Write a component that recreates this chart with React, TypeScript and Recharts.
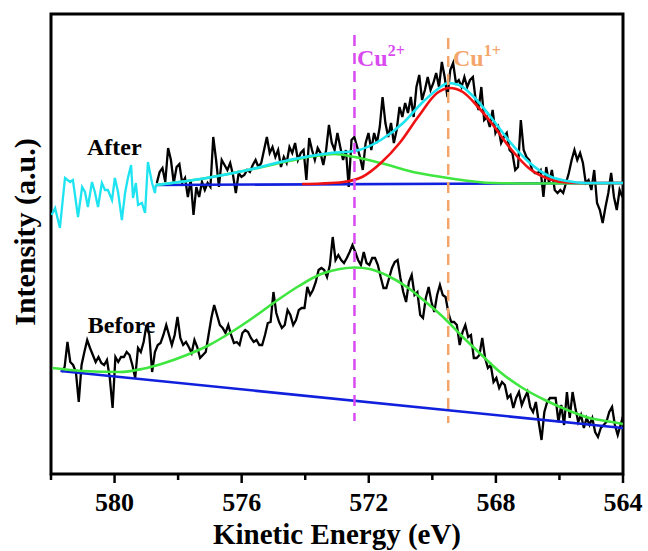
import React from 'react';
import { LineChart, Line, XAxis, YAxis, ReferenceArea, ReferenceDot } from 'recharts';

const FONT = "'Liberation Serif', 'Times New Roman', Times, serif";

// energy grid spacing of the measured spectra (eV)
const E_STEP = 0.0888;

// "After" spectrum (black), starts at 578.67 eV and runs to 564 eV
const afterBlackStart = 578.67;
const afterBlack = [
  291, 302, 306, 292, 326, 314, 291, 307, 310, 291,
  296, 277, 294, 259, 287, 277, 292, 284, 291, 287,
  337, 314, 287, 314, 309, 304, 311, 299, 281, 301,
  297, 299, 304, 302, 309, 314, 307, 311, 324, 337,
  321, 327, 317, 324, 307, 317, 311, 327, 321, 331,
  314, 321, 324, 294, 336, 324, 314, 326, 321, 309,
  324, 349, 331, 324, 341, 327, 314, 324, 287, 334,
  337, 327, 317, 304, 331, 341, 324, 341, 331, 347,
  377, 351, 337, 351, 331, 344, 367, 357, 371, 361,
  377, 357, 387, 399, 374, 384, 397, 384, 391, 401,
  387, 412, 397, 377, 404, 411, 391, 394, 387, 397,
  387, 394, 397, 374, 364, 387, 354, 357, 347, 364,
  341, 347, 331, 337, 341, 324, 321, 304, 307, 354,
  324, 317, 314, 304, 301, 301, 304, 277, 307, 291,
  304, 284, 281, 284, 281, 291, 301, 314, 324, 314,
  321, 311, 291, 294, 284, 304, 271, 264, 251, 267,
  281, 301, 277, 264, 284, 277,
];

// "Before" spectrum (black), starts at 581.66 eV and runs to 564 eV
const beforeBlackStart = 581.66;
const beforeBlack = [
  102, 107, 132, 112, 109, 102, 72, 109, 122, 134,
  126, 119, 112, 117, 111, 109, 114, 96, 66, 117,
  112, 117, 117, 122, 119, 109, 96, 126, 122, 132,
  149, 139, 102, 122, 129, 131, 139, 149, 139, 129,
  139, 157, 136, 129, 132, 127, 121, 134, 127, 116,
  119, 122, 139, 156, 169, 159, 149, 146, 141, 149,
  139, 131, 132, 129, 141, 144, 142, 136, 132, 134,
  129, 129, 139, 151, 152, 182, 161, 152, 146, 149,
  164, 159, 149, 154, 164, 166, 166, 187, 179, 184,
  192, 204, 206, 204, 197, 209, 237, 214, 219, 214,
  211, 216, 222, 229, 222, 214, 209, 222, 211, 209,
  216, 216, 209, 197, 186, 186, 196, 206, 212, 214,
  196, 182, 172, 192, 199, 179, 182, 159, 156, 176,
  187, 172, 162, 179, 189, 179, 177, 161, 152, 152,
  149, 129, 142, 149, 137, 139, 116, 116, 119, 136,
  116, 106, 109, 92, 96, 86, 92, 89, 76, 79,
  66, 76, 82, 69, 76, 82, 67, 62, 72, 52,
  34, 62, 72, 76, 76, 76, 52, 69, 49, 82,
  56, 82, 66, 52, 59, 46, 56, 49, 56, 42,
  37, 46, 49, 52, 62, 67, 49, 39, 49, 59,
];

// cyan noisy segment of the "After" curve (left part)
const cyanNoiseE = [581.98, 581.87, 581.72, 581.56, 581.40, 581.31, 581.15, 581.02, 580.93, 580.84, 580.71, 580.62, 580.52, 580.40, 580.30, 580.21, 580.08, 579.99, 579.89, 579.77, 579.67, 579.58, 579.48, 579.42, 579.33, 579.26, 579.14, 579.04, 578.95, 578.82, 578.73, 578.70];
const cyanNoiseV = [259, 266, 246, 296, 292, 294, 257, 287, 282, 267, 292, 282, 267, 291, 284, 284, 274, 296, 282, 254, 281, 296, 309, 276, 291, 269, 271, 261, 312, 291, 281, 289];

// After: fitted envelope (cyan)
const afterEnvE = [578.70, 577.10, 575.80, 574.51, 573.20, 572.44, 571.62, 570.92, 570.33, 569.74, 569.51, 569.16, 568.69, 568.09, 567.53, 566.93, 566.33, 565.76, 565.17, 564.0];
const afterEnvV = [289, 296, 304, 314, 321, 323, 334, 351, 371, 387, 391, 389, 377, 354, 331, 311, 298, 293, 291, 291];

// After: Cu2+ component (green)
const afterGreenE = [578.70, 577.10, 575.80, 574.51, 573.70, 573.10, 572.44, 571.62, 570.45, 569.51, 568.09, 566.93, 564.0];
const afterGreenV = [289, 296, 304, 313, 318, 320, 317, 311, 301, 296, 291, 290.5, 291];

// After: Cu1+ component (red)
const afterRedE = [574.10, 573.50, 572.80, 572.21, 571.62, 571.03, 570.45, 569.85, 569.45, 569.04, 568.56, 568.09, 567.53, 566.93, 566.33, 565.76, 565.17, 564.0];
const afterRedV = [290, 290.5, 292, 297, 311, 331, 357, 381, 386, 382, 367, 349, 325, 305, 295, 291.5, 291, 291];

// After: background (blue)
const afterBaseE = [578.70, 564.0];
const afterBaseV = [289, 291];

// Before: fit (green)
const beforeGreenE = [581.95, 581.01, 579.84, 579.14, 578.43, 577.73, 577.02, 576.32, 575.61, 574.91, 574.20, 573.50, 572.91, 572.44, 571.97, 571.39, 570.80, 570.21, 569.63, 569.04, 568.45, 567.87, 567.16, 566.46, 565.75, 565.05, 564.34, 564.0];
const beforeGreenV = [106, 103, 102, 105, 111, 119, 129, 142, 157, 173, 188, 200, 205, 206.5, 205, 198, 187, 172, 156, 137, 119, 102, 86, 74, 64, 56, 52, 50];

// Before: background (blue)
const beforeBaseE = [581.7, 564.0];
const beforeBaseV = [103, 46];

// reference positions
const cu2Energy = 572.45;
const cu1Energy = 569.5;
const cu2Range = [439, 53];
const cu1Range = [436, 51];

const xTicks = [564, 566, 568, 570, 572, 574, 576, 578, 580, 582];
const xLabeled = [564, 568, 572, 576, 580];

const zip = (es: number[], vs: number[]) => es.map((e, i) => ({ e, v: vs[i] }));
const onGrid = (start: number, vs: number[]) =>
  vs.map((v, i) => ({ e: Math.round((start - i * E_STEP) * 1000) / 1000, v }));

const afterBlackData = onGrid(afterBlackStart, afterBlack);
const beforeBlackData = onGrid(beforeBlackStart, beforeBlack);
const cyanNoiseData = zip(cyanNoiseE, cyanNoiseV);
const afterEnvData = zip(afterEnvE, afterEnvV);
const afterGreenData = zip(afterGreenE, afterGreenV);
const afterRedData = zip(afterRedE, afterRedV);
const afterBaseData = zip(afterBaseE, afterBaseV);
const beforeGreenData = zip(beforeGreenE, beforeGreenV);
const beforeBaseData = zip(beforeBaseE, beforeBaseV);
const cu2Data = cu2Range.map((v) => ({ e: cu2Energy, v }));
const cu1Data = cu1Range.map((v) => ({ e: cu1Energy, v }));

const BLACK = '#000000';
const CYAN = '#1ee3f0';
const GREEN = '#3fe63f';
const RED = '#f01212';
const BLUE = '#1020dc';
const MAGENTA = '#d94af0';
const ORANGE = '#f4a66a';

function XTick(props: any) {
  const { x, y, payload } = props;
  const val = payload.value;
  const major = xLabeled.includes(val);
  return (
    <g>
      <line x1={x} x2={x} y1={y} y2={y + (major ? 9 : 6)} stroke="#000" strokeWidth={2.5} />
      {major && (
        <text x={x} y={y + 37} textAnchor="middle" fontFamily={FONT} fontWeight="bold" fontSize={26} fill="#000">
          {val}
        </text>
      )}
    </g>
  );
}

const makeText = (main: string, sup: string | null, color: string) => (p: any) => (
  <text x={p.cx} y={p.cy} fill={color} fontFamily={FONT} fontWeight="bold" fontSize={24}>
    {main}
    {sup && (
      <tspan dy={-10} fontSize={16}>
        {sup}
      </tspan>
    )}
  </text>
);

export default function App() {
  const common = { dataKey: 'v', dot: false, activeDot: false, isAnimationActive: false } as any;
  return (
    <div style={{ width: 648, height: 551, overflow: 'hidden', background: '#fff' }}>
      <style>{'html,body{margin:0;padding:0;overflow:hidden;background:#fff}'}</style>
      <LineChart width={648} height={551} margin={{ top: 14, right: 25, left: 0, bottom: 0 }}>
        <XAxis
          dataKey="e"
          type="number"
          domain={[564, 582]}
          reversed
          allowDataOverflow
          ticks={xTicks}
          interval={0}
          tick={<XTick />}
          tickLine={false}
          axisLine={false}
          tickSize={0}
          tickMargin={0}
          height={77}
          label={() => (
            <text x={337} y={544} textAnchor="middle" fontFamily={FONT} fontWeight="bold" fontSize={29} fill="#000">
              Kinetic Energy (eV)
            </text>
          )}
        />
        <YAxis
          type="number"
          domain={[0, 460]}
          allowDataOverflow
          width={51}
          tick={false}
          tickLine={false}
          axisLine={false}
          label={() => (
            <text
              x={35}
              y={232}
              transform="rotate(-90, 35, 232)"
              textAnchor="middle"
              fontFamily={FONT}
              fontWeight="bold"
              fontSize={30}
              fill="#000"
            >
              Intensity (a.u.)
            </text>
          )}
        />
        <ReferenceArea x1={564} x2={582} y1={0} y2={460} fill="none" stroke="#000" strokeWidth={3} />

        <Line {...common} data={beforeBlackData} stroke={BLACK} strokeWidth={2.3} type="linear" />
        <Line {...common} data={beforeBaseData} stroke={BLUE} strokeWidth={2.6} type="linear" />
        <Line {...common} data={beforeGreenData} stroke={GREEN} strokeWidth={2.6} type="monotone" />

        <Line {...common} data={afterBlackData} stroke={BLACK} strokeWidth={2.3} type="linear" />
        <Line {...common} data={cyanNoiseData} stroke={CYAN} strokeWidth={2.3} type="linear" />
        <Line {...common} data={afterBaseData} stroke={BLUE} strokeWidth={2.6} type="linear" />
        <Line {...common} data={afterGreenData} stroke={GREEN} strokeWidth={2.6} type="monotone" />
        <Line {...common} data={afterRedData} stroke={RED} strokeWidth={2.6} type="monotone" />
        <Line {...common} data={afterEnvData} stroke={CYAN} strokeWidth={2.6} type="monotone" />

        <Line {...common} data={cu2Data} stroke={MAGENTA} strokeWidth={2.5} strokeDasharray="11 7" type="linear" />
        <Line {...common} data={cu1Data} stroke={ORANGE} strokeWidth={2.5} strokeDasharray="11 7" type="linear" />

        <ReferenceDot x={580.87} y={319} r={1} shape={makeText('After', null, '#000')} />
        <ReferenceDot x={580.84} y={141} r={1} shape={makeText('Before', null, '#000')} />
        <ReferenceDot x={572.37} y={408} r={1} shape={makeText('Cu', '2+', MAGENTA)} />
        <ReferenceDot x={569.35} y={408} r={1} shape={makeText('Cu', '1+', ORANGE)} />
      </LineChart>
    </div>
  );
}
